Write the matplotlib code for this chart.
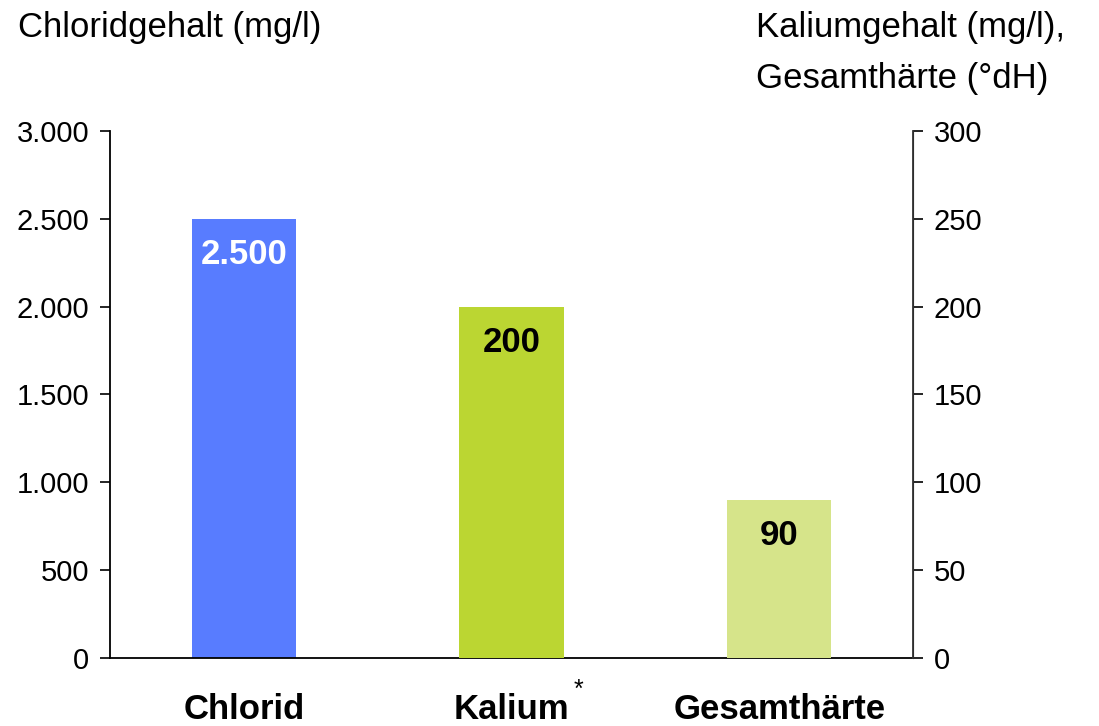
import matplotlib.pyplot as plt
from matplotlib.ticker import FuncFormatter
from matplotlib.transforms import offset_copy

plt.rcParams['font.family'] = ['Liberation Sans', 'DejaVu Sans']

# Daten
kategorien = ["Chlorid", "Kalium", "Gesamthärte"]
chlorid = [2500]          # linke Achse (mg/l)
rechts_werte = [200, 90]  # rechte Achse: Kalium (mg/l), Gesamthärte (°dH)
werte_text = ["2.500", "200", "90"]
farben = ["#587CFF", "#BBD632", "#D6E48A"]
links_ticks = [0, 500, 1000, 1500, 2000, 2500, 3000]
rechts_ticks = [0, 50, 100, 150, 200, 250, 300]

fig = plt.figure(figsize=(10.99, 7.26), dpi=100)
ax = fig.add_axes([0.1001, 0.0937, 0.7307, 0.7259])
ax2 = ax.twinx()

breite = 0.39
ax.bar([0], chlorid, width=breite, color=farben[0], zorder=2)
ax2.bar([1, 2], rechts_werte, width=breite, color=farben[1:], zorder=2)

ax.set_xlim(-0.5, 2.5)
ax.set_ylim(0, 3000)
ax2.set_ylim(0, 300)
ax.set_yticks(links_ticks)
ax2.set_yticks(rechts_ticks)
ax.yaxis.set_major_formatter(FuncFormatter(lambda v, p: f"{int(v):,}".replace(",", ".")))

for a in (ax, ax2):
    a.spines['top'].set_visible(False)
    a.tick_params(axis='y', length=7, width=1.2, pad=8, labelsize=21)
ax.spines['left'].set_linewidth(1.3)
ax.spines['bottom'].set_linewidth(1.3)
ax2.spines['right'].set_linewidth(1.3)
ax2.spines['right'].set_color('#333333')
ax2.spines['left'].set_visible(False)
ax2.spines['bottom'].set_visible(False)

ax.set_xticks([0, 1, 2])
ax.set_xticklabels(kategorien, fontsize=25, fontweight='bold')
ax.tick_params(axis='x', length=0, pad=25)

# Stern bei Kalium
trans = offset_copy(ax.get_xaxis_transform(), fig=fig, x=48, y=-14, units='points')
ax.text(1, 0, "*", transform=trans, fontsize=18, ha='center', va='top')

# Werte in den Balken
ax.annotate(werte_text[0], (0, chlorid[0]), xytext=(0, -26), textcoords='offset points',
            ha='center', va='center', fontsize=25, fontweight='bold', color='white')
for i, (x, v) in enumerate(zip([1, 2], rechts_werte)):
    ax2.annotate(werte_text[i + 1], (x, v), xytext=(0, -26), textcoords='offset points',
                 ha='center', va='center', fontsize=25, fontweight='bold', color='black')

# Achsentitel
fig.text(18 / 1099, 1 - 37 / 726, "Chloridgehalt (mg/l)", fontsize=25, ha='left', va='baseline')
fig.text(756 / 1099, 1 - 37 / 726, "Kaliumgehalt (mg/l),", fontsize=25, ha='left', va='baseline')
fig.text(756 / 1099, 1 - 88 / 726, "Gesamthärte (°dH)", fontsize=25, ha='left', va='baseline')

fig.savefig("out.png", dpi=100)
